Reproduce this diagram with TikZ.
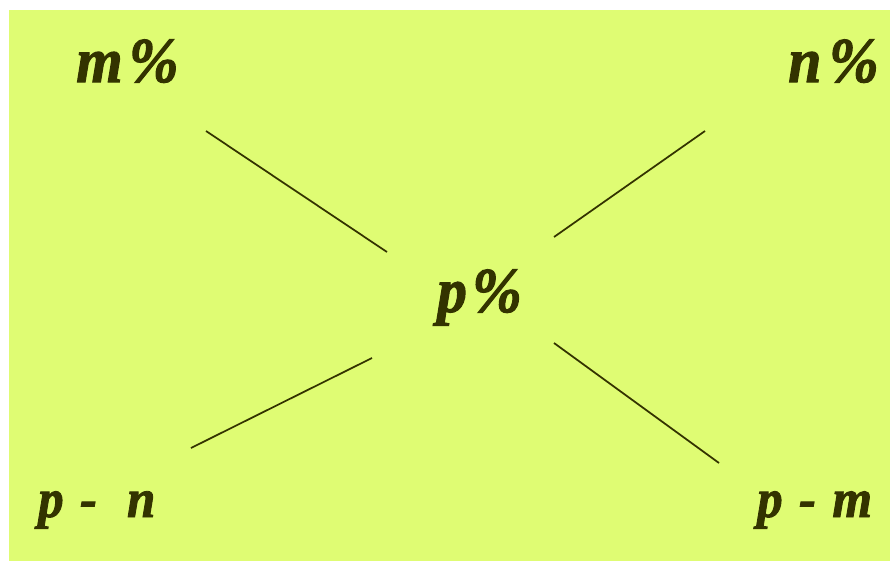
\documentclass[tikz,border=0pt]{standalone}
\usepackage{fontspec}
\setmainfont{Liberation Serif}
\newfontfamily\termfont[FakeStretch=0.93, FakeBold=1.6]{Liberation Serif}
\usepackage{tikz}
\usetikzlibrary{positioning}
\definecolor{LimeBack}{HTML}{DFFC73}
\definecolor{OliveInk}{HTML}{333300}

\begin{document}
\begin{tikzpicture}[x=0.75pt, y=-0.75pt,
    bigterm/.style={anchor=base west, inner sep=0pt, color=OliveInk,
        font=\termfont\fontsize{48}{58}\selectfont\bfseries\itshape},
    smallterm/.style={anchor=base west, inner sep=0pt, color=OliveInk,
        font=\termfont\fontsize{41}{48}\selectfont\bfseries\itshape},
    crossline/.style={draw=OliveInk, line width=1.3pt}]
        % Frame and lime background
        \useasboundingbox (0,0) rectangle (890,561);
        \fill[LimeBack] (9,10) rectangle (890,561);

        % Concentration labels
        \node[bigterm] (mA) at (76,82) {m\hspace{0.1em}\%};
        \node[bigterm] (nB) at (788,82) {n\hspace{0.12em}\%};
        \node[bigterm] (pMix) at (437,312) {p\hspace{0.08em}\%};
        \node[smallterm] (pn) at (38,517) {p\hspace{0.3em}-\hspace{0.55em}n};
        \node[smallterm] (pm) at (757,517) {p\hspace{0.3em}-\hspace{0.3em}m};

        % End points of the cross
        \coordinate (ulOut) at (206,131);
        \coordinate (ulIn) at (387,252);
        \coordinate (urOut) at (705,131);
        \coordinate (urIn) at (554,237);
        \coordinate (llOut) at (191,448);
        \coordinate (llIn) at (372,358);
        \coordinate (lrOut) at (719,463);
        \coordinate (lrIn) at (554,343);

        % Cross lines
        \draw[crossline] (ulOut) -- (ulIn);
        \draw[crossline] (urIn) -- (urOut);
        \draw[crossline] (llOut) -- (llIn);
        \draw[crossline] (lrIn) -- (lrOut);
    \end{tikzpicture}
\end{document}
